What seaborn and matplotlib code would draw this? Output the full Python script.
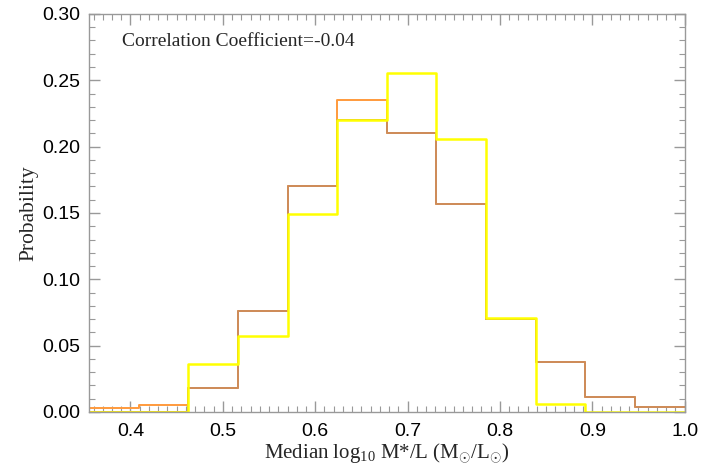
import numpy as np
import pandas as pd
import matplotlib
matplotlib.use("Agg")
import matplotlib.pyplot as plt
from matplotlib.ticker import MultipleLocator
import seaborn as sns

# bins: 12 equal bins from 0.355 to 1.0
bin_lo = 0.355
bin_hi = 1.0
n_bins = 12

prob_orange = [0.003, 0.005, 0.018, 0.076, 0.170, 0.235, 0.210, 0.157, 0.070, 0.038, 0.011, 0.004]
prob_brown = [0.0, 0.0, 0.018, 0.076, 0.170, 0.220, 0.210, 0.157, 0.070, 0.038, 0.011, 0.004]
prob_yellow = [0.0, 0.0, 0.036, 0.057, 0.149, 0.220, 0.2555, 0.206, 0.071, 0.006, 0.0, 0.0]

x_ticks = [0.4, 0.5, 0.6, 0.7, 0.8, 0.9, 1.0]
y_ticks = [0.00, 0.05, 0.10, 0.15, 0.20, 0.25, 0.30]
corr_text = "Correlation Coefficient=-0.04"

sns.set_theme(style="ticks")
plt.rcParams["font.family"] = ["Liberation Sans", "DejaVu Sans"]
plt.rcParams["mathtext.fontset"] = "custom"
plt.rcParams["mathtext.rm"] = "Liberation Serif"
plt.rcParams["mathtext.it"] = "Liberation Serif:italic"

edges = np.linspace(bin_lo, bin_hi, n_bins + 1)
centers = (edges[:-1] + edges[1:]) / 2

fig = plt.figure(figsize=(7.23, 4.65), dpi=100)
ax = fig.add_axes([0.123, 0.114, 0.824, 0.856])

for vals, col, lw in [(prob_orange, "#ff9a3c", 1.4),
                      (prob_brown, "#cd8c5a", 1.4),
                      (prob_yellow, "#ffff00", 1.8)]:
    df = pd.DataFrame({"x": centers, "w": vals})
    sns.histplot(data=df, x="x", weights="w", bins=n_bins,
                 binrange=(bin_lo, bin_hi), element="step",
                 fill=False, color=col, linewidth=lw, ax=ax)

ax.set_xlim(bin_lo, bin_hi)
ax.set_ylim(0, 0.30)
ax.set_xticks(x_ticks)
ax.set_xticklabels([f"{v:.1f}" for v in x_ticks])
ax.set_yticks(y_ticks)
ax.set_yticklabels([f"{v:.2f}" for v in y_ticks])
ax.xaxis.set_minor_locator(MultipleLocator(0.01))
ax.yaxis.set_minor_locator(MultipleLocator(0.01))
ax.tick_params(which="both", direction="in", top=True, right=True,
               color="#999999", labelsize=14, labelcolor="black")
ax.tick_params(which="major", length=8, width=1)
ax.tick_params(which="minor", length=4, width=0.8)
ax.tick_params(axis="x", pad=8)
ax.tick_params(axis="y", pad=6)
for s in ax.spines.values():
    s.set_visible(True)
    s.set_color("#999999")
    s.set_linewidth(1)

ax.set_xlabel(r"Median log$_{10}$ M$*$/L (M$_{\odot}$/L$_{\odot}$)",
              family="Liberation Serif", fontsize=15, labelpad=1)
ax.set_ylabel("Probability", family="Liberation Serif", fontsize=15.5, labelpad=3)
ax.text(0.055, 0.93, corr_text, transform=ax.transAxes,
        family="Liberation Serif", fontsize=14, va="center")

plt.savefig("out.png", dpi=100)
